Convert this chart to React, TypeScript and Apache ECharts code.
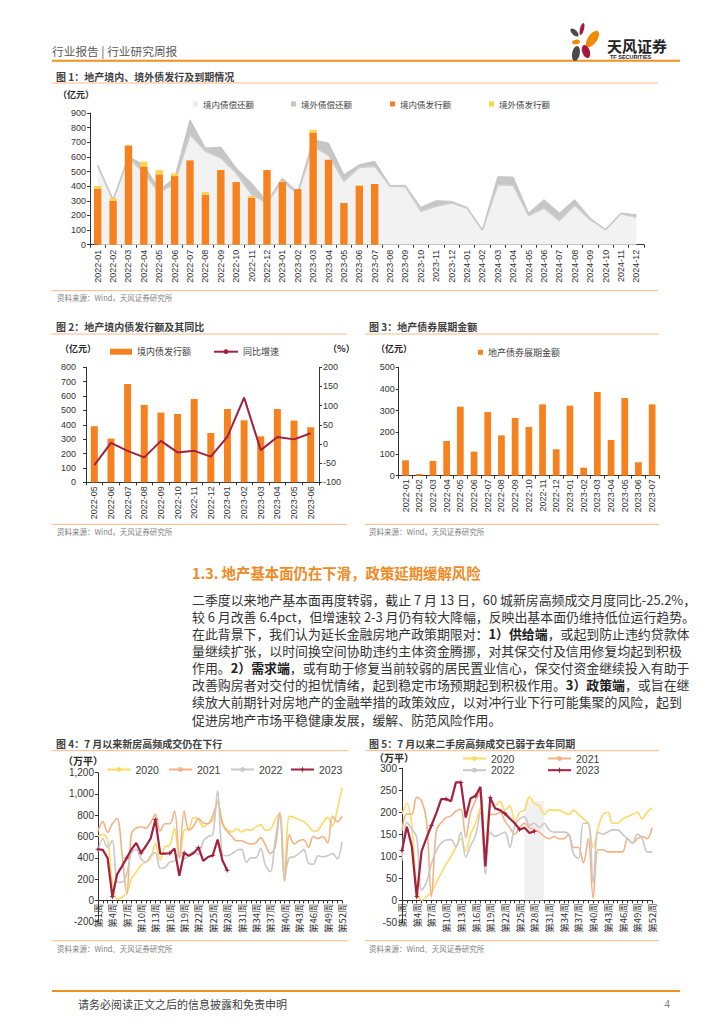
import React, { useEffect, useRef } from 'react';
import * as echarts from 'echarts';

const NUM = '"Liberation Sans", Arial, sans-serif';
const CJK = '"Noto Sans CJK SC", "Noto Sans", sans-serif';
const AXIS = '#333333';
const ORANGE = '#f5821f';
const YELLOW = '#ffd34e';
const CRIMSON = '#a3213f';
const C2020 = '#ffd966';
const C2021 = '#f4b183';
const C2022 = '#c8c8c8';

// ---------- Figure 1 ----------
const months1 = [
  '2022-01', '2022-02', '2022-03', '2022-04', '2022-05', '2022-06', '2022-07', '2022-08', '2022-09', '2022-10', '2022-11', '2022-12',
  '2023-01', '2023-02', '2023-03', '2023-04', '2023-05', '2023-06', '2023-07', '2023-08', '2023-09', '2023-10', '2023-11', '2023-12',
  '2024-01', '2024-02', '2024-03', '2024-04', '2024-05', '2024-06', '2024-07', '2024-08', '2024-09', '2024-10', '2024-11', '2024-12',
];
const domesticRepay1 = [540, 300, 595, 490, 355, 420, 752, 638, 592, 490, 342, 285, 433, 349, 672, 610, 433, 528, 535, 399, 396, 228, 262, 285, 251, 98, 410, 405, 198, 251, 164, 269, 171, 103, 212, 187];
const overseasRepay1 = [5, 10, 8, 55, 20, 35, 102, 22, 75, 34, 79, 11, 22, 11, 45, 85, 45, 19, 35, 6, 9, 27, 39, 11, 4, 5, 55, 57, 18, 57, 52, 39, 11, 0, 4, 18];
const domesticIssue1 = [383, 300, 678, 533, 481, 469, 576, 342, 510, 428, 321, 510, 428, 380, 767, 581, 285, 401, 415];
const overseasIssue1 = [18, 18, 4, 34, 29, 18, 0, 18, 0, 0, 12, 0, 3, 0, 18, 0, 0, 5, 0];

// ---------- Figure 2 ----------
const months2 = ['2022-05', '2022-06', '2022-07', '2022-08', '2022-09', '2022-10', '2022-11', '2022-12', '2023-01', '2023-02', '2023-03', '2023-04', '2023-05', '2023-06'];
const issue2 = [390, 304, 684, 538, 485, 475, 580, 343, 510, 431, 320, 510, 429, 383];
const yoy2 = [-55, 3, -18, -35, 8, -22, -18, -33, 19, 121, -16, 18, 12, 28];

// ---------- Figure 3 ----------
const months3 = ['2022-01', '2022-02', '2022-03', '2022-04', '2022-05', '2022-06', '2022-07', '2022-08', '2022-09', '2022-10', '2022-11', '2022-12', '2023-01', '2023-02', '2023-03', '2023-04', '2023-05', '2023-06', '2023-07'];
const extension3 = [71, 8, 68, 160, 318, 111, 294, 186, 266, 225, 329, 122, 323, 37, 386, 165, 358, 62, 329];

// ---------- Figure 4 / 5 ----------
const weeks = Array.from({ length: 52 }, (_, i) => `第${i + 1}周`);
const new2020 = [603, 622, 565, 170, 10, 30, 65, 204, 267, 330, 361, 393, 534, 377, 503, 518, 675, 400, 660, 675, 779, 760, 691, 722, 754, 942, 738, 660, 644, 675, 644, 666, 660, 691, 713, 660, 666, 754, 820, 250, 790, 780, 760, 740, 700, 650, 660, 730, 780, 700, 850, 1060];
const new2021 = [650, 740, 640, 720, 770, 450, 65, 630, 680, 690, 680, 730, 810, 650, 720, 720, 840, 400, 840, 660, 700, 770, 730, 720, 800, 920, 720, 650, 600, 560, 560, 540, 530, 540, 590, 520, 440, 500, 820, 180, 620, 530, 560, 570, 500, 600, 580, 600, 540, 790, 740, 790];
const new2022 = [460, 580, 500, 565, 173, 170, 250, 450, 480, 390, 360, 420, 450, 300, 310, 360, 370, 450, 390, 430, 460, 430, 560, 600, 620, 1030, 430, 420, 440, 470, 480, 360, 400, 400, 490, 330, 270, 550, 823, 220, 400, 410, 440, 480, 350, 340, 420, 410, 420, 440, 390, 550];
const new2023 = [481, 475, 399, 35, 245, 320, 399, 481, 540, 446, 509, 581, 760, 440, 440, 443, 487, 232, 446, 418, 446, 496, 371, 408, 424, 572, 377, 283];

const sec2020 = [196, 220, 170, 30, 0, 8, 19, 40, 62, 82, 100, 120, 140, 112, 150, 175, 210, 100, 215, 215, 225, 205, 215, 180, 200, 205, 235, 220, 215, 195, 205, 205, 205, 200, 195, 205, 195, 185, 175, 120, 165, 195, 200, 175, 175, 185, 190, 195, 200, 185, 200, 210];
const sec2021 = [158, 196, 196, 234, 226, 181, 8, 158, 177, 188, 192, 203, 207, 143, 200, 226, 249, 85, 195, 195, 200, 180, 165, 150, 165, 175, 165, 160, 155, 145, 140, 145, 140, 140, 150, 120, 120, 85, 140, 5, 115, 115, 110, 110, 110, 110, 140, 130, 140, 145, 140, 165];
const sec2022 = [90, 177, 162, 143, 23, 41, 83, 113, 130, 137, 138, 121, 155, 98, 124, 147, 200, 60, 155, 145, 150, 155, 120, 170, 185, 190, 170, 175, 165, 175, 160, 155, 155, 155, 150, 105, 95, 175, 175, 40, 155, 150, 155, 160, 160, 150, 140, 130, 150, 140, 110, 110];
const sec2023 = [113, 167, 123, 8, 112, 142, 170, 198, 230, 230, 225, 268, 268, 188, 232, 237, 258, 77, 233, 209, 205, 197, 186, 175, 161, 165, 153, 157];
const shadeWeeks = ['第26周', '第30周'];
const shadeTop = 225;

// ---------- Page text ----------
const paragraph = [
  '二季度以来地产基本面再度转弱，截止 7 月 13 日，60 城新房高频成交月度同比-25.2%，',
  '较 6 月改善 6.4pct，但增速较 2-3 月仍有较大降幅，反映出基本面仍维持低位运行趋势。',
  '在此背景下，我们认为延长金融房地产政策期限对：{b|1）供给端}，或起到防止违约贷款体',
  '量继续扩张，以时间换空间协助违约主体资金腾挪，对其保交付及信用修复均起到积极',
  '作用。{b|2）需求端}，或有助于修复当前较弱的居民置业信心，保交付资金继续投入有助于',
  '改善购房者对交付的担忧情绪，起到稳定市场预期起到积极作用。{b|3）政策端}，或旨在继',
  '续放大前期针对房地产的金融举措的政策效应，以对冲行业下行可能集聚的风险，起到',
  '促进房地产市场平稳健康发展，缓解、防范风险作用。',
];

// grid geometry (pixels)
const G4 = { left: 98, top: 772.7, width: 244, height: 149 };
const G5 = { left: 402, top: 768.3, width: 250, height: 154 };
const Y4 = { min: -200, max: 1200, interval: 200 };
const Y5 = { min: -50, max: 300, interval: 50 };
// offset that puts the category axis on the value 0
const zeroOffset = (h: number, y: { min: number; max: number }) => -(h * (0 - y.min)) / (y.max - y.min);

function catAxis(gridIndex: number, data: string[], o: any = {}) {
  return {
    type: 'category',
    gridIndex,
    data,
    boundaryGap: o.boundaryGap ?? true,
    offset: o.offset ?? 0,
    axisLine: { show: true, onZero: false, lineStyle: { color: AXIS, width: 1 } },
    axisTick: { show: true, length: 3, interval: 0, lineStyle: { color: AXIS } },
    axisLabel: {
      rotate: 90,
      interval: o.labelInterval ?? 0,
      fontSize: o.fontSize ?? 9,
      fontFamily: o.fontFamily ?? NUM,
      color: AXIS,
      margin: o.margin ?? 4,
    },
    splitLine: { show: false },
  };
}

function valAxis(gridIndex: number, min: number, max: number, interval: number, o: any = {}) {
  return {
    type: 'value',
    gridIndex,
    min,
    max,
    interval,
    position: o.position ?? 'left',
    axisLine: { show: true, lineStyle: { color: AXIS } },
    axisTick: { show: true, length: 3, lineStyle: { color: AXIS } },
    axisLabel: {
      fontSize: o.fontSize ?? 9,
      fontFamily: NUM,
      color: AXIS,
      margin: o.margin ?? 5,
      formatter: o.formatter,
    },
    splitLine: { show: false },
  };
}

function legendItem(name: string, left: number, top: number, o: any = {}) {
  return {
    data: [name],
    left,
    top,
    padding: 0,
    icon: o.icon,
    itemWidth: o.w ?? 5,
    itemHeight: o.h ?? 5,
    selectedMode: false,
    textStyle: { fontSize: o.size ?? 8.5, fontFamily: o.font ?? CJK, color: '#404040' },
  };
}

const starPath = 'path://M0,-10 L2.5,-2.5 L10,0 L2.5,2.5 L0,10 L-2.5,2.5 L-10,0 L-2.5,-2.5 Z';

function buildGraphic() {
  const G: any[] = [];
  const txt = (text: string, x: number, y: number, o: any = {}) =>
    G.push({
      type: 'text',
      x,
      y,
      silent: true,
      style: {
        text,
        fontSize: o.size ?? 9,
        fontFamily: o.font ?? CJK,
        fontWeight: o.weight ?? 'normal',
        fill: o.color ?? '#333',
        align: o.align ?? 'left',
        verticalAlign: 'middle',
        rich: o.rich,
      },
    });
  const hline = (x1: number, x2: number, y: number, color: string, w: number) =>
    G.push({ type: 'line', silent: true, shape: { x1, y1: y, x2, y2: y }, style: { stroke: color, lineWidth: w } });
  const petal = (x: number, y: number, rx: number, ry: number, rot: number, fill: string) =>
    G.push({ type: 'ellipse', x, y, rotation: rot, silent: true, shape: { cx: 0, cy: 0, rx, ry }, style: { fill } });

  // header
  txt('行业报告 | 行业研究周报', 52, 50, { size: 11.7, color: '#595959' });
  hline(52, 680, 60.7, '#f0901e', 2);
  petal(574.5, 32.5, 2.6, 5.2, Math.PI / 4, '#4a4a4a');
  petal(582, 29, 2, 6.2, -0.25, '#a6193c');
  petal(592.5, 39, 4.6, 9.5, -0.6, '#f08a00');
  petal(576, 42, 4, 2.4, 0.15, '#f08a00');
  petal(576, 53.5, 3.8, 7.5, -0.2, '#4a4a4a');
  petal(586, 51.5, 3.8, 6.8, 0.3, '#a6193c');
  txt('天风证券', 607, 45, { size: 15, weight: 'bold', color: '#222' });
  txt('TF SECURITIES', 610, 56.5, { size: 5.5, weight: 'bold', color: '#222', font: NUM });

  // chart titles & rules
  const TITLE = '#404040';
  const RULE = '#f6b98a';
  const SRC = '#7f7f7f';
  txt('图 1：地产境内、境外债发行及到期情况', 56, 76, { size: 10, weight: 'bold', color: TITLE });
  hline(52, 658, 83, RULE, 1);
  hline(52, 658, 290.7, RULE, 1);
  txt('资料来源：Wind，天风证券研究所', 57, 297.5, { size: 7.5, color: SRC });
  txt('（亿元）', 58, 94.7, { size: 9, weight: 'bold', color: '#262626' });

  txt('图 2：地产境内债发行额及其同比', 56, 326.7, { size: 10, weight: 'bold', color: TITLE });
  hline(52, 347, 334, RULE, 1);
  hline(52, 347, 524.3, RULE, 1);
  txt('资料来源：Wind，天风证券研究所', 57, 531, { size: 7.5, color: SRC });
  txt('（亿元）', 60, 348.3, { size: 9, weight: 'bold', color: '#262626' });
  txt('（%）', 328, 348.3, { size: 9, weight: 'bold', color: '#262626' });

  txt('图 3：地产债券展期金额', 369, 326.7, { size: 10, weight: 'bold', color: TITLE });
  hline(365, 659, 334, RULE, 1);
  hline(365, 659, 524.3, RULE, 1);
  txt('资料来源：Wind，天风证券研究所', 369, 531, { size: 7.5, color: SRC });
  txt('（亿元）', 376, 348.3, { size: 9, weight: 'bold', color: '#262626' });

  txt('图 4：7 月以来新房高频成交仍在下行', 56, 743.3, { size: 10, weight: 'bold', color: TITLE });
  hline(52, 348, 750.7, RULE, 1);
  hline(52, 348, 940.7, RULE, 1);
  txt('资料来源：Wind、天风证券研究所', 57, 948.3, { size: 7.5, color: SRC });
  txt('（万平）', 63, 760, { size: 10, weight: 'bold', color: '#262626' });

  txt('图 5：7 月以来二手房高频成交已弱于去年同期', 369, 743.3, { size: 10, weight: 'bold', color: TITLE });
  hline(365, 659, 750.7, RULE, 1);
  hline(365, 659, 940.7, RULE, 1);
  txt('资料来源：Wind、天风证券研究所', 369, 948.3, { size: 7.5, color: SRC });
  txt('（万平）', 374, 757, { size: 10, weight: 'bold', color: '#262626' });

  // section heading & paragraph
  txt('1.3. 地产基本面仍在下滑，政策延期缓解风险', 192, 572, { size: 14.4, weight: 'bold', color: '#f08a24' });
  paragraph.forEach((line, i) => {
    txt(line, 192, 599.3 + i * 17.1, {
      size: 12.9,
      color: '#333',
      rich: { b: { fontSize: 12.9, fontFamily: CJK, fontWeight: 'bold', fill: '#222' } },
    });
  });

  // footer
  hline(52, 680, 991, '#f0901e', 2);
  txt('请务必阅读正文之后的信息披露和免责申明', 78, 1004, { size: 11, color: '#404040' });
  txt('4', 670, 1004, { size: 10, color: '#7f7f7f', font: NUM, align: 'right' });
  return G;
}

export default function App() {
  const ref = useRef<HTMLDivElement>(null);
  useEffect(() => {
    if (!ref.current) return;
    const chart = echarts.init(ref.current, null, { renderer: 'svg', width: 724, height: 1024 });
    const commaFmt = (v: number) => v.toLocaleString('en-US');
    const option: any = {
      animation: false,
      backgroundColor: '#ffffff',
      grid: [
        { left: 90, top: 113, width: 554, height: 131.7 },
        { left: 86, top: 367.3, width: 233, height: 115 },
        { left: 398.7, top: 367.3, width: 260.3, height: 108.4 },
        G4,
        G5,
      ],
      xAxis: [
        catAxis(0, months1, { margin: 5 }),
        catAxis(1, months2, { margin: 4 }),
        catAxis(2, months3, { margin: 3.5 }),
        catAxis(3, weeks, { boundaryGap: false, labelInterval: 2, fontFamily: CJK, fontSize: 9.5, margin: 3, offset: zeroOffset(G4.height, Y4) }),
        catAxis(4, weeks, { boundaryGap: false, labelInterval: 2, fontFamily: CJK, fontSize: 9.5, margin: 3, offset: zeroOffset(G5.height, Y5) }),
      ],
      yAxis: [
        valAxis(0, 0, 900, 100, { margin: 4 }),
        valAxis(1, 0, 800, 100, { margin: 10 }),
        valAxis(1, -100, 200, 50, { position: 'right', margin: 4 }),
        valAxis(2, 0, 500, 100, { margin: 4 }),
        valAxis(3, Y4.min, Y4.max, Y4.interval, { fontSize: 10, margin: 4, formatter: commaFmt }),
        valAxis(4, Y5.min, Y5.max, Y5.interval, { fontSize: 10, margin: 5 }),
      ],
      legend: [
        legendItem('境内债偿还额', 193, 99.7, { icon: 'rect' }),
        legendItem('境外债偿还额', 291, 99.7, { icon: 'rect' }),
        legendItem('境内债发行额', 390, 99.7, { icon: 'rect' }),
        legendItem('境外债发行额', 489, 99.7, { icon: 'rect' }),
        legendItem('境内债发行额', 110, 347.2, { icon: 'rect', w: 22, h: 6, size: 9 }),
        legendItem('同比增速', 213, 347.2, { w: 24, h: 6, size: 9 }),
        legendItem('地产债券展期金额', 478, 347.8, { icon: 'rect', size: 9 }),
        legendItem('2020', 106.5, 764, { w: 23, h: 6, size: 10.5, font: NUM }),
        legendItem('2021', 168, 764, { w: 23, h: 6, size: 10.5, font: NUM }),
        legendItem('2022', 230, 764, { w: 23, h: 6, size: 10.5, font: NUM }),
        legendItem('2023', 290, 764, { w: 23, h: 8, size: 10.5, font: NUM }),
        legendItem('2020', 462, 753, { w: 23, h: 6, size: 10.5, font: NUM }),
        legendItem('2021', 547, 753, { w: 23, h: 6, size: 10.5, font: NUM }),
        legendItem('2022', 462, 764.7, { w: 23, h: 6, size: 10.5, font: NUM }),
        legendItem('2023', 547, 764.7, { w: 23, h: 8, size: 10.5, font: NUM }),
      ],
      series: [
        // Figure 1
        {
          name: '境内债偿还额', type: 'line', xAxisIndex: 0, yAxisIndex: 0, stack: 'repay', data: domesticRepay1,
          symbol: 'none', z: 1,
          lineStyle: { color: '#cfcfcf', width: 1.5 },
          itemStyle: { color: '#ececec' },
          areaStyle: { color: '#f2f2f2', opacity: 1 },
        },
        {
          name: '境外债偿还额', type: 'line', xAxisIndex: 0, yAxisIndex: 0, stack: 'repay', data: overseasRepay1,
          symbol: 'none', z: 1,
          lineStyle: { color: '#c4c4c4', width: 1, opacity: 1 },
          itemStyle: { color: '#c4c4c4' },
          areaStyle: { color: '#c6c6c6', opacity: 1 },
        },
        {
          name: '境内债发行额', type: 'bar', xAxisIndex: 0, yAxisIndex: 0, stack: 'issue', data: domesticIssue1,
          barWidth: '48%', z: 3, itemStyle: { color: ORANGE },
        },
        {
          name: '境外债发行额', type: 'bar', xAxisIndex: 0, yAxisIndex: 0, stack: 'issue', data: overseasIssue1,
          barWidth: '48%', z: 3, itemStyle: { color: YELLOW },
        },
        // Figure 2
        {
          name: '境内债发行额', type: 'bar', xAxisIndex: 1, yAxisIndex: 1, data: issue2,
          barWidth: '42%', itemStyle: { color: ORANGE },
        },
        {
          name: '同比增速', type: 'line', xAxisIndex: 1, yAxisIndex: 2, data: yoy2,
          symbol: 'none', lineStyle: { color: CRIMSON, width: 2 }, itemStyle: { color: CRIMSON }, z: 4,
        },
        // Figure 3
        {
          name: '地产债券展期金额', type: 'bar', xAxisIndex: 2, yAxisIndex: 3, data: extension3,
          barWidth: '49%', itemStyle: { color: ORANGE },
        },
        // Figure 4
        { name: '2020', type: 'line', xAxisIndex: 3, yAxisIndex: 4, data: new2020, symbol: 'none', smooth: 0.35, lineStyle: { color: C2020, width: 1.6 }, itemStyle: { color: C2020 }, z: 2 },
        { name: '2021', type: 'line', xAxisIndex: 3, yAxisIndex: 4, data: new2021, symbol: 'none', smooth: 0.35, lineStyle: { color: C2021, width: 1.6 }, itemStyle: { color: C2021 }, z: 2 },
        { name: '2022', type: 'line', xAxisIndex: 3, yAxisIndex: 4, data: new2022, symbol: 'none', smooth: 0.35, lineStyle: { color: C2022, width: 1.6 }, itemStyle: { color: C2022 }, z: 2 },
        { name: '2023', type: 'line', xAxisIndex: 3, yAxisIndex: 4, data: new2023, symbol: starPath, symbolSize: 6, showSymbol: true, lineStyle: { color: CRIMSON, width: 2.2 }, itemStyle: { color: CRIMSON }, z: 3 },
        // Figure 5
        {
          name: 'shade', type: 'line', xAxisIndex: 4, yAxisIndex: 5, data: [], z: 1, silent: true,
          markArea: {
            silent: true,
            itemStyle: { color: '#f0f0f0' },
            data: [[{ coord: [shadeWeeks[0], 0] }, { coord: [shadeWeeks[1], shadeTop] }]],
          },
        },
        { name: '2020', type: 'line', xAxisIndex: 4, yAxisIndex: 5, data: sec2020, symbol: 'none', smooth: 0.35, lineStyle: { color: C2020, width: 1.6 }, itemStyle: { color: C2020 }, z: 2 },
        { name: '2021', type: 'line', xAxisIndex: 4, yAxisIndex: 5, data: sec2021, symbol: 'none', smooth: 0.35, lineStyle: { color: C2021, width: 1.6 }, itemStyle: { color: C2021 }, z: 2 },
        { name: '2022', type: 'line', xAxisIndex: 4, yAxisIndex: 5, data: sec2022, symbol: 'none', smooth: 0.35, lineStyle: { color: C2022, width: 1.6 }, itemStyle: { color: C2022 }, z: 2 },
        { name: '2023', type: 'line', xAxisIndex: 4, yAxisIndex: 5, data: sec2023, symbol: starPath, symbolSize: 6, showSymbol: true, lineStyle: { color: CRIMSON, width: 2.2 }, itemStyle: { color: CRIMSON }, z: 3 },
      ],
      graphic: { elements: buildGraphic() },
    };
    chart.setOption(option);
    return () => chart.dispose();
  }, []);
  return (
    <div
      ref={ref}
      style={{ position: 'absolute', left: 0, top: 0, width: 724, height: 1024, background: '#fff' }}
    />
  );
}
